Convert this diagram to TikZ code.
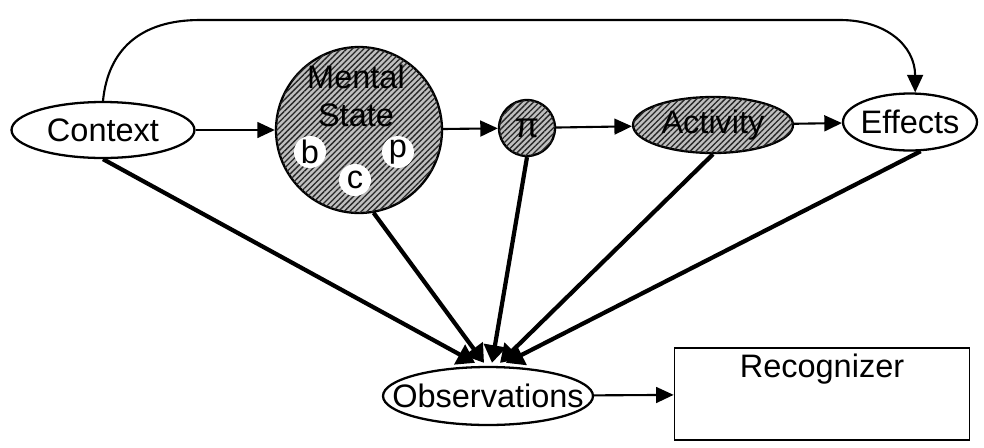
\documentclass[tikz,border=0pt]{standalone}
\usepackage{fontspec}
\setmainfont{Liberation Sans}
\usetikzlibrary{arrows.meta,shapes.geometric,patterns.meta,calc}

\tikzset{
  oval/.style={ellipse, draw, line width=1.3pt, inner sep=0pt},
  ball/.style={circle, draw, line width=1.3pt, inner sep=0pt},
  hatched/.style={fill=gray!50,
    postaction={pattern={Lines[angle=45,distance=2.3pt,line width=0.75pt]},
                pattern color=black!85}},
  flow/.style={-{Triangle[length=10pt,width=9pt]}, line width=1.2pt},
  feed/.style={-{Triangle[length=10pt,width=12.5pt]}, line width=2.4pt},
}
\newcommand{\zw}[1]{\makebox[0pt]{#1}}

\begin{document}
\begin{tikzpicture}[x=0.02cm, y=0.02cm, font=\fontsize{18.5}{21.5}\selectfont]
  \useasboundingbox (0,0) rectangle (984,-447);

  \node[oval, minimum width=3.66cm, minimum height=1.12cm] (ctx) at (103,-130) {\zw{Context}};
  \node[ball, hatched, minimum size=3.32cm] (ms) at (359,-130) {};
  \node[align=center] (mstext) at (356,-96) {Mental\\State};
  \foreach \name/\x/\y in {b/310/152,c/355/180,p/398/152}
    \node[circle, fill=white, minimum size=0.64cm, inner sep=0pt] (\name) at (\x,-\y) {\name};
  \node[ball, hatched, minimum size=1.12cm, font=\fontsize{20}{22}\selectfont] (pi) at (527,-128) {π};
  \node[oval, hatched, minimum width=3.2cm, minimum height=1.12cm] (act) at (713,-125) {\zw{Activity}};
  \node[oval, minimum width=2.68cm, minimum height=1.14cm] (eff) at (910,-122) {\zw{Effects}};
  \node[oval, minimum width=4.2cm, minimum height=1.16cm] (obs) at (488,-396) {\zw{Observations}};
  \node[draw, line width=1pt, minimum width=5.9cm, minimum height=1.84cm,
        text height=0.4cm, text depth=1.08cm] (rec) at (822,-394) {Recognizer};

  \coordinate (topl) at (200,-20);
  \coordinate (topr) at (840,-20);

  \path[flow] (ctx) edge (ms)
              (ms)  edge (pi)
              (pi)  edge (act)
              (act) edge (eff)
              (obs) edge (rec);

  \draw[flow] (ctx.north) .. controls (108,-50) and (140,-20) .. (topl)
              -- (topr) .. controls (885,-20) and (915,-45) .. (eff.80);

  \path[feed] (ctx.south) edge ($(obs.north)+(-13,3)$)
              (ms.-80)    edge ($(obs.north)+(-4,3)$)
              (pi.south)  edge ($(obs.north)+(4,3)$)
              (act.south) edge ($(obs.north)+(12,3)$)
              (eff.-70)   edge ($(obs.north)+(18,3)$);
\end{tikzpicture}
\end{document}
